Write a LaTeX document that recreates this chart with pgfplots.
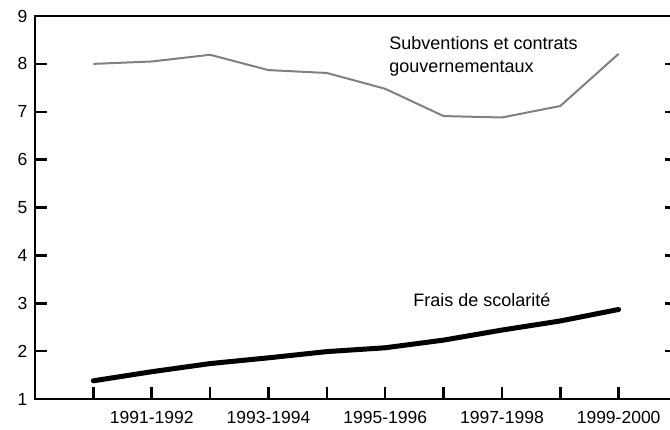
\documentclass[border=0pt]{standalone}
\usepackage{pgfplots}
\pgfplotsset{compat=1.18}
\usepackage{fontspec}
\setmainfont{Liberation Sans}
\definecolor{graylinecol}{HTML}{808080}
\begin{document}
\begin{tikzpicture}
\useasboundingbox (-35pt,-30pt) rectangle (635pt,399pt);
\clip (-35pt,-30pt) rectangle (635pt,399pt);
\begin{axis}[
  at={(0pt,0pt)}, anchor=south west,
  scale only axis,
  width=642pt, height=383pt,
  xmin=-1, xmax=10, ymin=1, ymax=9,
  axis line style={line width=2.5pt},
  every tick/.style={black, line width=2.5pt},
  major tick length=12pt,
  tick align=inside,
  xtick={0,...,9},
  xticklabels={,1991-1992,,1993-1994,,1995-1996,,1997-1998,,1999-2000},
  xtick pos=bottom,
  ytick={1,...,9},
  ytick pos=both,
  yticklabel pos=left,
  /pgf/number format/assume math mode=true,
  tick label style={font=\fontsize{17.5}{21}\selectfont},
  yticklabel style={xshift=-4pt},
  xticklabel style={yshift=-9pt},
  clip=false,
]
\addplot[graylinecol, line width=2pt] coordinates {
 (0,8.00) (1,8.05) (2,8.19) (3,7.87) (4,7.81) (5,7.48) (6,6.91) (7,6.88) (8,7.12) (9,8.21)};
\addplot[black, line width=5pt, line cap=round] coordinates {
 (0,1.38) (1,1.57) (2,1.74) (3,1.86) (4,1.99) (5,2.07) (6,2.23) (7,2.44) (8,2.63) (9,2.87)};
\node[anchor=base west, inner sep=0pt, font=\fontsize{18}{21}\selectfont] at (axis cs:5.07,8.31) {Subventions et contrats};
\node[anchor=base west, inner sep=0pt, font=\fontsize{18}{21}\selectfont] at (axis cs:5.07,7.81) {gouvernementaux};
\node[anchor=base west, inner sep=0pt, font=\fontsize{18}{21}\selectfont] at (axis cs:5.48,2.93) {Frais de scolarité};
\node[anchor=base, inner sep=0pt, font=\fontsize{17}{21}\selectfont] at (axis cs:3.08,9.41) {(milliards de dollars)};
\end{axis}
\end{tikzpicture}
\end{document}
